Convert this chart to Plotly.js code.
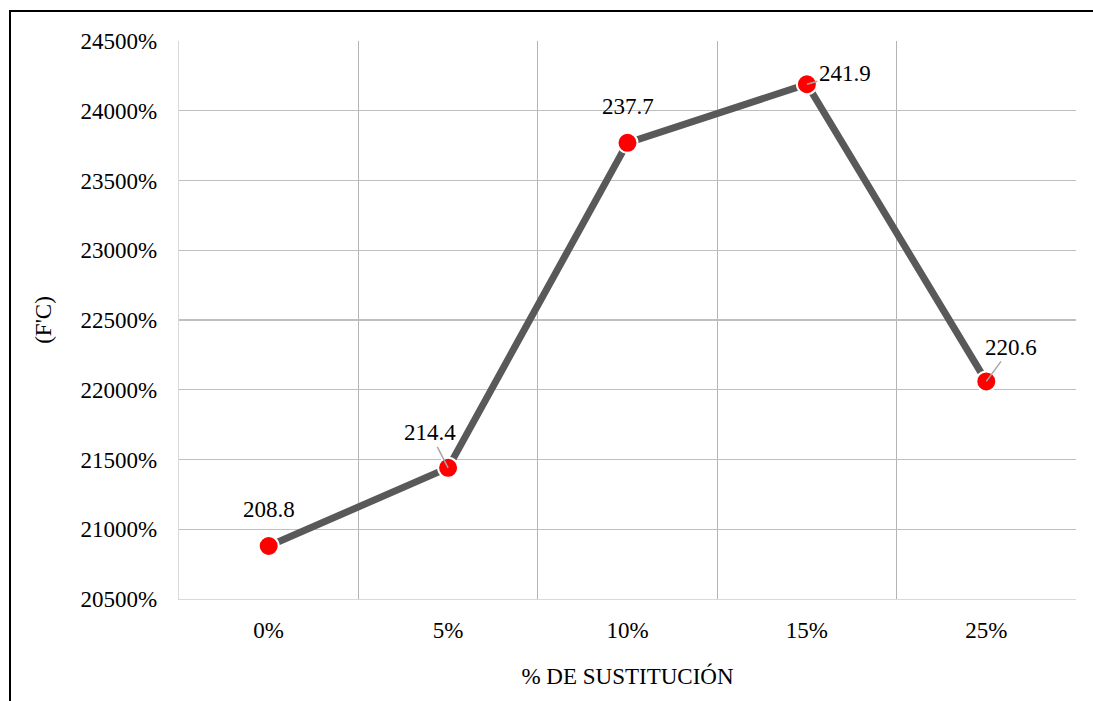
<!DOCTYPE html>
<html>
<head>
<meta charset="utf-8">
<script src="https://cdn.plot.ly/plotly-3.0.1.min.js"></script>
<style>
  html, body { margin: 0; padding: 0; background: #fff; }
  #chart { width: 1093px; height: 701px; }
  #frame { position: absolute; left: 9px; top: 10px; width: 1084px; height: 691px;
           border-left: 2px solid #000; border-top: 2px solid #000; pointer-events: none; }
</style>
</head>
<body>
<div id="chart"></div>
<div id="frame"></div>
<script>
const categories = ['0%', '5%', '10%', '15%', '25%'];
const values = [208.8, 214.4, 237.7, 241.9, 220.6];
const yTickVals = [205, 210, 215, 220, 225, 230, 235, 240, 245];
const yTickText = ['20500%', '21000%', '21500%', '22000%', '22500%', '23000%', '23500%', '24000%', '24500%'];
const labelText = ['208.8', '214.4', '237.7', '241.9', '220.6'];
// label placement offsets (pixels) and whether a leader line is drawn
const labelAx = [0, -18, 0, 38, 25];
const labelAy = [-36, -35, -36, -11, -34];
const labelLeader = [false, true, false, true, true];

const font = 'Liberation Serif, Times New Roman, serif';
const fs = 23;

const trace = {
  type: 'scatter',
  mode: 'lines+markers',
  x: categories,
  y: values,
  line: { color: '#595959', width: 7 },
  marker: { color: '#ff0000', size: 20, line: { color: '#ffffff', width: 2 } },
  hoverinfo: 'x+y'
};

const annotations = categories.map((c, i) => {
  if (labelLeader[i]) {
    return {
      x: c, y: values[i], xref: 'x', yref: 'y',
      text: labelText[i], showarrow: true, arrowhead: 0, arrowwidth: 1.5,
      arrowcolor: '#a6a6a6', ax: labelAx[i], ay: labelAy[i], standoff: 0,
      font: { family: font, size: fs, color: '#000' }
    };
  }
  return {
    x: c, y: values[i], xref: 'x', yref: 'y',
    text: labelText[i], showarrow: false, yshift: -labelAy[i], xshift: labelAx[i],
    font: { family: font, size: fs, color: '#000' }
  };
});

const layout = {
  width: 1093, height: 701,
  margin: { l: 179, r: 17, t: 41, b: 102 },
  paper_bgcolor: '#ffffff', plot_bgcolor: '#ffffff',
  showlegend: false,
  font: { family: font, size: fs, color: '#000' },
  xaxis: {
    type: 'category',
    range: [-0.5, 4.5],
    tickson: 'boundaries',
    showgrid: true, gridcolor: '#b3b3b3', gridwidth: 1.3,
    showline: true, linecolor: '#d9d9d9', linewidth: 1.3,
    ticks: '', ticklabelstandoff: 10,
    tickfont: { family: font, size: fs, color: '#000' },
    title: { text: '% DE SUSTITUCIÓN', font: { family: font, size: fs, color: '#000' }, standoff: 26 },
    zeroline: false, fixedrange: true
  },
  yaxis: {
    range: [205, 245],
    tickvals: yTickVals, ticktext: yTickText,
    showgrid: true, gridcolor: '#bfbfbf', gridwidth: 1.3,
    showline: true, linecolor: '#d9d9d9', linewidth: 1.3,
    ticks: '', ticklabelstandoff: 16,
    tickfont: { family: font, size: fs, color: '#000' },
    title: { text: "(F'C)", font: { family: font, size: fs, color: '#000' }, standoff: 22 },
    zeroline: false, fixedrange: true
  },
  annotations: annotations
};

Plotly.newPlot('chart', [trace], layout, { displayModeBar: false, staticPlot: true });
</script>
</body>
</html>
